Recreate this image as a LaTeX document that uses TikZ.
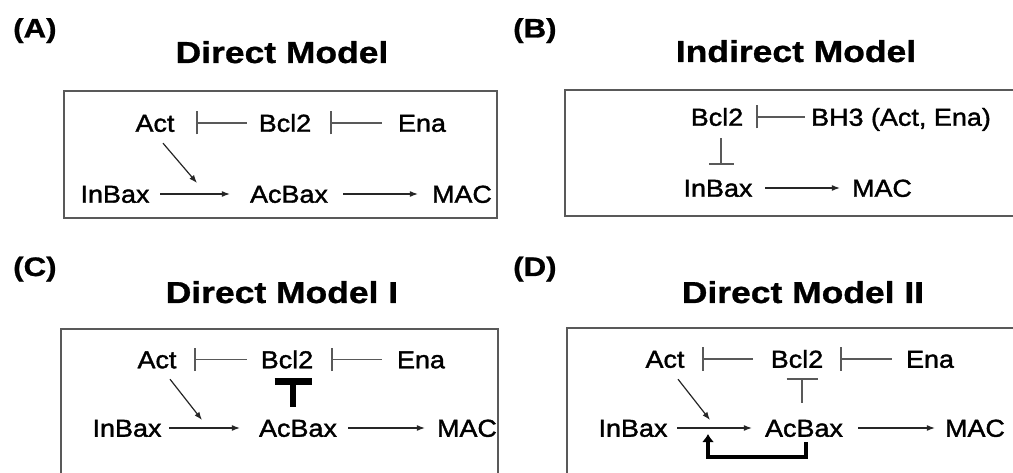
\documentclass[tikz,border=0pt]{standalone}
\usepackage{fontspec}
\setmainfont{Liberation Sans}[FakeStretch=1.1]
\newfontfamily\lblfont{Liberation Sans}[FakeStretch=1.1, FakeBold=1.5]
\newfontfamily\titlefont{Liberation Sans}[FakeStretch=1.17, FakeBold=1]
\usetikzlibrary{arrows.meta}
\tikzset{
  lbl/.style={inner sep=0pt, text height=17.5pt, text depth=0pt, font=\lblfont\fontsize{24.5}{26}\selectfont, text=black},
  ttl/.style={anchor=base, inner sep=0pt, font=\titlefont\bfseries\fontsize{30.3}{32}\selectfont},
  pnl/.style={anchor=base west, inner sep=0pt, font=\titlefont\bfseries\fontsize{26.7}{28}\selectfont},
  frame/.style={draw=black!65, line width=1.5pt},
  actarr/.style={draw=black!85, line width=1.2pt, -{Latex[length=8pt,width=6pt]}},
  inh/.style={draw=black!65, line width=1.2pt, -{Bar[width=23pt,line width=1.8pt]}},
  thickinh/.style={draw=black, line width=6.5pt, -{Bar[width=37pt,line width=7pt]}},
  thininh/.style={draw=black!65, line width=1.3pt, -{Bar[width=31pt,line width=1.6pt]}},
  feedback/.style={draw=black, line width=4pt, -{Latex[length=8pt,width=12pt]}},
}
\begin{document}
\begin{tikzpicture}[x=1pt,y=-1pt]
\useasboundingbox (0,0) rectangle (1013,473);

% ---------------- Panel A ----------------
\node[pnl] (pA) at (13,37.5) {(A)};
\node[ttl] (tA) at (282,63) {Direct Model};
\draw[frame] (64,91) rectangle (497,218);
\node[lbl] (actA) at (155,123) {Act};
\node[lbl] (bclA) at (285,123) {Bcl2};
\node[lbl] (enaA) at (422,123) {Ena};
\node[lbl] (inbA) at (115,194) {InBax};
\node[lbl] (acA)  at (289,194) {AcBax};
\node[lbl] (macA) at (462,194) {MAC};
\coordinate (jA) at (197,183);
\draw[inh, shorten <=11.8pt, shorten >=21.5pt] (bclA.west) -- (actA.east);
\draw[inh, shorten <=16pt, shorten >=18.8pt] (enaA.west) -- (bclA.east);
\draw[actarr, shorten <=10.5pt, shorten >=20pt] (inbA.east) -- (acA.west);
\draw[actarr, shorten <=15pt, shorten >=14pt] (acA.east) -- (macA.west);
\draw[actarr] ([xshift=8pt,yshift=-11.25pt]actA.south) -- (jA);

% ---------------- Panel B ----------------
\node[pnl] (pB) at (513,37.5) {(B)};
\node[ttl] (tB) at (796,62) {Indirect Model};
\draw[frame] (565,90) rectangle (1020,216);
\node[lbl] (bclB) at (717,117) {Bcl2};
\node[lbl] (bh3B) at (901,117) {BH3 (Act, Ena)};
\node[lbl] (inbB) at (718,188) {InBax};
\node[lbl] (macB) at (882,188) {MAC};
\draw[inh, shorten <=6pt, shorten >=12.8pt] (bh3B.west) -- (bclB.east);
\draw[inh, shorten <=12.5pt, shorten >=14pt, -{Bar[width=25pt,line width=1.8pt]}] ([xshift=4pt]bclB.south) -- ([xshift=3pt]inbB.north);
\draw[actarr, shorten <=12.5pt, shorten >=12pt] (inbB.east) -- (macB.west);

% ---------------- Panel C ----------------
\node[pnl] (pC) at (13,276) {(C)};
\node[ttl] (tC) at (282,303) {Direct Model I};
\draw[frame] (61,329) rectangle (498,480);
\node[lbl] (actC) at (157,359.5) {Act};
\node[lbl] (bclC) at (287,359.5) {Bcl2};
\node[lbl] (enaC) at (421,359.5) {Ena};
\node[lbl] (inbC) at (127,428) {InBax};
\node[lbl] (acC)  at (298,428) {AcBax};
\node[lbl] (macC) at (467,428) {MAC};
\coordinate (jC) at (202,420);
\draw[inh, shorten <=13.8pt, shorten >=17.5pt] (bclC.west) -- (actC.east);
\draw[inh, shorten <=15pt, shorten >=17.8pt] (enaC.west) -- (bclC.east);
\draw[thickinh, shorten <=12.5pt, shorten >=10pt] ([xshift=-5pt]acC.north) -- ([xshift=6pt]bclC.south);
\draw[actarr, shorten <=7.5pt, shorten >=19pt] (inbC.east) -- (acC.west);
\draw[actarr, shorten <=11pt, shorten >=12pt] (acC.east) -- (macC.west);
\draw[actarr] ([xshift=13pt,yshift=-10.75pt]actC.south) -- (jC);

% ---------------- Panel D ----------------
\node[pnl] (pD) at (513,276) {(D)};
\node[ttl] (tD) at (803,303) {Direct Model II};
\draw[frame] (567,328) rectangle (1020,480);
\node[lbl] (actD) at (665,359) {Act};
\node[lbl] (bclD) at (797,359) {Bcl2};
\node[lbl] (enaD) at (930,359) {Ena};
\node[lbl] (inbD) at (633,428) {InBax};
\node[lbl] (acD)  at (804,428) {AcBax};
\node[lbl] (macD) at (975,428) {MAC};
\coordinate (jD) at (710,420);
\coordinate (fbD) at (708,434);
\draw[inh, shorten <=17.8pt, shorten >=17.5pt] (bclD.west) -- (actD.east);
\draw[inh, shorten <=14pt, shorten >=16.8pt] (enaD.west) -- (bclD.east);
\draw[thininh, shorten <=16.5pt, shorten >=10.5pt] ([xshift=-2pt]acD.north) -- ([xshift=5pt]bclD.south);
\draw[actarr, shorten <=9.5pt, shorten >=13pt] (inbD.east) -- (acD.west);
\draw[actarr, shorten <=15pt, shorten >=10pt] (acD.east) -- (macD.west);
\draw[actarr] ([xshift=13pt,yshift=-11.25pt]actD.south) -- (jD);
\draw[feedback] ([xshift=2pt,yshift=-5.5pt]acD.south) -- ++(0,15) -| (fbD);
\end{tikzpicture}
\end{document}
